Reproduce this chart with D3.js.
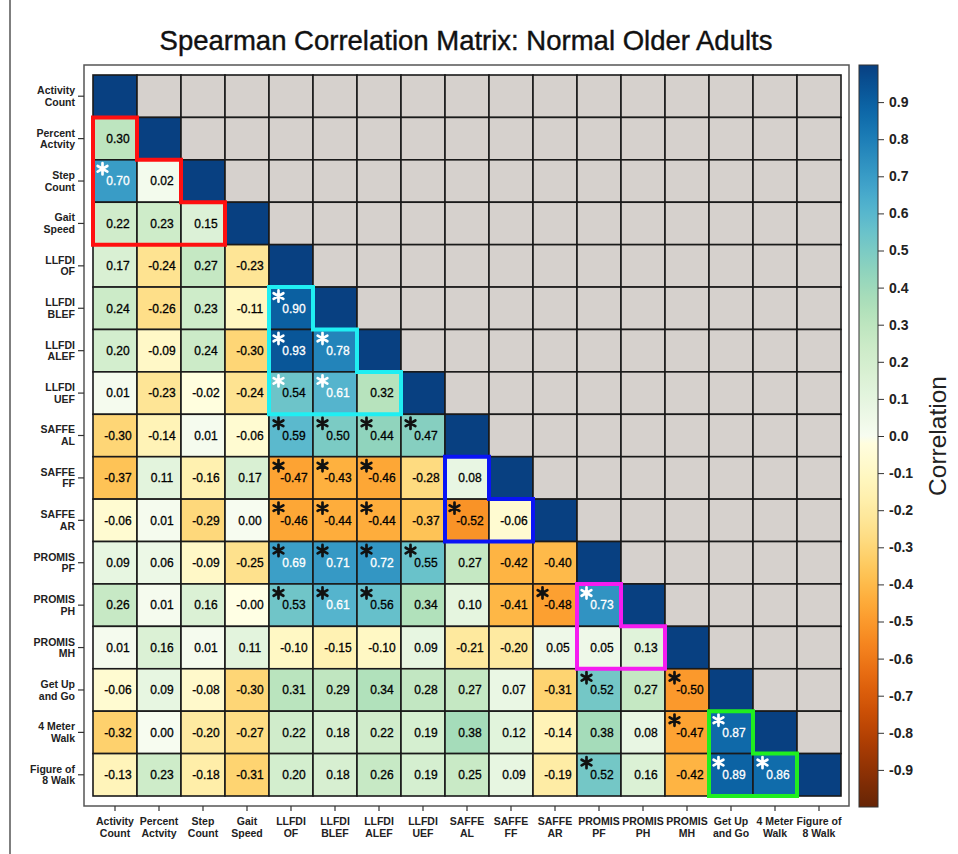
<!DOCTYPE html>
<html><head><meta charset="utf-8">
<script src="https://cdn.jsdelivr.net/npm/d3@7"></script>
<style>body{margin:0;background:#fff;} svg{display:block;}</style>
</head><body>
<svg id="chart" width="958" height="854"></svg>
<script>
const variables = [
  ["Activity","Count"],["Percent","Actvity"],["Step","Count"],["Gait","Speed"],
  ["LLFDI","OF"],["LLFDI","BLEF"],["LLFDI","ALEF"],["LLFDI","UEF"],
  ["SAFFE","AL"],["SAFFE","FF"],["SAFFE","AR"],
  ["PROMIS","PF"],["PROMIS","PH"],["PROMIS","MH"],
  ["Get Up","and Go"],["4 Meter","Walk"],["Figure of","8 Walk"]
];
// lower-triangle correlations, row i has i values (columns 0..i-1)
const correlations = [
  [],
  [0.30],
  [0.70, 0.02],
  [0.22, 0.23, 0.15],
  [0.17, -0.24, 0.27, -0.23],
  [0.24, -0.26, 0.23, -0.11, 0.90],
  [0.20, -0.09, 0.24, -0.30, 0.93, 0.78],
  [0.01, -0.23, -0.02, -0.24, 0.54, 0.61, 0.32],
  [-0.30, -0.14, 0.01, -0.06, 0.59, 0.50, 0.44, 0.47],
  [-0.37, 0.11, -0.16, 0.17, -0.47, -0.43, -0.46, -0.28, 0.08],
  [-0.06, 0.01, -0.29, 0.00, -0.46, -0.44, -0.44, -0.37, -0.52, -0.06],
  [0.09, 0.06, -0.09, -0.25, 0.69, 0.71, 0.72, 0.55, 0.27, -0.42, -0.40],
  [0.26, 0.01, 0.16, -0.004, 0.53, 0.61, 0.56, 0.34, 0.10, -0.41, -0.48, 0.73],
  [0.01, 0.16, 0.01, 0.11, -0.10, -0.15, -0.10, 0.09, -0.21, -0.20, 0.05, 0.05, 0.13],
  [-0.06, 0.09, -0.08, -0.30, 0.31, 0.29, 0.34, 0.28, 0.27, 0.07, -0.31, 0.52, 0.27, -0.50],
  [-0.32, 0.00, -0.20, -0.27, 0.22, 0.18, 0.22, 0.19, 0.38, 0.12, -0.14, 0.38, 0.08, -0.47, 0.87],
  [-0.13, 0.23, -0.18, -0.31, 0.20, 0.18, 0.26, 0.19, 0.25, 0.09, -0.19, 0.52, 0.16, -0.42, 0.89, 0.86]
];
// significant pairs [row, col]
const significant = [
  [2,0],[5,4],[6,4],[6,5],[7,4],[7,5],
  [8,4],[8,5],[8,6],[8,7],
  [9,4],[9,5],[9,6],
  [10,4],[10,5],[10,6],[10,8],
  [11,4],[11,5],[11,6],[11,7],
  [12,4],[12,5],[12,6],[12,10],[12,11],
  [14,11],[14,13],[15,13],[15,14],[16,11],[16,14],[16,15]
];
// highlighted variable groups [first, last, colour]
const groups = [[0,3,"#ff1010"],[4,7,"#20eef2"],[8,10,"#0a14f5"],[11,13,"#f51cf0"],[14,16,"#20ee20"]];
const colorTicks = [0.9,0.8,0.7,0.6,0.5,0.4,0.3,0.2,0.1,0.0,-0.1,-0.2,-0.3,-0.4,-0.5,-0.6,-0.7,-0.8,-0.9];

const svg = d3.select("#chart");
const font = "'Liberation Sans', Arial, sans-serif";
const n = variables.length;
const idx = d3.range(n);
const x = d3.scaleBand().domain(idx).range([93, 841]);
const y = d3.scaleBand().domain(idx).range([75, 796]);
const color = v => v >= 0 ? d3.interpolateGnBu(v) : d3.interpolateYlOrBr(-v);

// page left frame line
svg.append("line").attr("x1",10).attr("x2",10).attr("y1",0).attr("y2",854)
  .attr("stroke","#555").attr("stroke-width",1.5);

// title
svg.append("text").attr("x",466).attr("y",50).attr("text-anchor","middle")
  .attr("font-family",font).attr("font-size",27.5).attr("fill","#111")
  .attr("stroke","#111").attr("stroke-width",0.4)
  .text("Spearman Correlation Matrix: Normal Older Adults");

// plot frame
svg.append("rect").attr("x",84).attr("y",65).attr("width",765).attr("height",741)
  .attr("fill","none").attr("stroke","#555").attr("stroke-width",1.5);

const cells = [];
idx.forEach(r => idx.forEach(c => {
  let v = null, type = "upper";
  if (r === c) { v = 1; type = "diag"; }
  else if (c < r) { v = correlations[r][c]; type = "lower"; }
  cells.push({r, c, v, type});
}));

const g = svg.append("g");
g.selectAll("rect.cell").data(cells).join("rect").attr("class","cell")
  .attr("x", d => x(d.c)).attr("y", d => y(d.r))
  .attr("width", x.bandwidth()).attr("height", y.bandwidth())
  .attr("fill", d => d.type === "upper" ? "#d6d1cd" : color(d.v))
  .attr("stroke","#1a1a1a").attr("stroke-width",1.6);

const lower = cells.filter(d => d.type === "lower");
const inGroup = d => groups.some(([a,b]) => d.r > a && d.r <= b && d.c >= a && d.c < b);
g.selectAll("text.val").data(lower).join("text").attr("class","val")
  .attr("x", d => x(d.c) + x.bandwidth()/2 + 3)
  .attr("y", d => y(d.r) + y.bandwidth()/2)
  .attr("dy","0.36em").attr("text-anchor","middle")
  .attr("font-family",font).attr("font-size",12)
  .attr("fill", d => d.v > 0.6 ? "#fff" : "#000")
  .attr("stroke", d => d.v > 0.6 ? "#fff" : "#000").attr("stroke-width",0.3)
  .text(d => d.v.toFixed(2));

const sig = significant.map(([r,c]) => ({r, c, v: correlations[r][c]}));
const starPath = d3.symbol().type(d3.symbolAsterisk).size(88)();
g.selectAll("path.star").data(sig).join("path").attr("class","star")
  .attr("transform", d => `translate(${x(d.c) + 9.5},${y(d.r) + 9})`)
  .attr("d", starPath)
  .attr("fill","none")
  .attr("stroke", d => (inGroup(d) && d.v > 0) ? "#fff" : "#111")
  .attr("stroke-width",2.7).attr("stroke-linecap","round");

// group outlines (staircase)
groups.forEach(([a,b,col]) => {
  const stairs = [[x(a), y(a+1)]];
  for (let k = a+1; k <= b; k++) {
    stairs.push([x(k - 1) + x.bandwidth(), y(k)]);
    stairs.push([x(k - 1) + x.bandwidth(), y(k) + y.bandwidth()]);
  }
  stairs.push([x(a), y(b) + y.bandwidth()]);
  svg.append("path")
    .attr("d", d3.line()(stairs) + "Z")
    .attr("fill","none").attr("stroke",col).attr("stroke-width",4)
    .attr("stroke-linejoin","miter");
});

// row labels
const rowLab = svg.append("g");
idx.forEach(i => {
  const cy = y(i) + y.bandwidth()/2;
  rowLab.append("line").attr("x1",78).attr("x2",84).attr("y1",cy).attr("y2",cy)
    .attr("stroke","#333").attr("stroke-width",1.2);
  const t = rowLab.append("text").attr("text-anchor","end")
    .attr("font-family",font).attr("font-size",10.5).attr("font-weight","bold").attr("fill","#222");
  t.append("tspan").attr("x",75).attr("y",cy - 5.8).attr("dy","0.36em").text(variables[i][0]);
  t.append("tspan").attr("x",75).attr("y",cy + 5.8).attr("dy","0.36em").text(variables[i][1]);
});
// column labels
idx.forEach(i => {
  const cx = x(i) + x.bandwidth()/2;
  rowLab.append("line").attr("x1",cx).attr("x2",cx).attr("y1",806).attr("y2",811)
    .attr("stroke","#333").attr("stroke-width",1.2);
  const t = rowLab.append("text").attr("text-anchor","middle")
    .attr("font-family",font).attr("font-size",10.5).attr("font-weight","bold").attr("fill","#222");
  t.append("tspan").attr("x",cx).attr("y",821.7).attr("dy","0.36em").text(variables[i][0]);
  t.append("tspan").attr("x",cx).attr("y",833.3).attr("dy","0.36em").text(variables[i][1]);
});

// colour bar
const cb = d3.scaleLinear().domain([-1,1]).range([807,65]);
const defs = svg.append("defs");
const grad = defs.append("linearGradient").attr("id","cbgrad")
  .attr("x1","0").attr("y1","1").attr("x2","0").attr("y2","0");
d3.range(0, 101).forEach(k => {
  const v = -1 + k/50;
  grad.append("stop").attr("offset", (k) + "%").attr("stop-color", color(v));
});
svg.append("rect").attr("x",859).attr("y",cb(1)).attr("width",19).attr("height",cb(-1)-cb(1))
  .attr("fill","url(#cbgrad)").attr("stroke","#333").attr("stroke-width",1);
const axis = d3.axisRight(cb).tickValues(colorTicks).tickSize(6).tickPadding(5);
const ax = svg.append("g").attr("transform","translate(878,0)").call(axis);
ax.select(".domain").remove();
ax.selectAll("line").attr("stroke","#333");
ax.selectAll("text").attr("font-family",font).attr("font-size",14).attr("font-weight","bold").attr("fill","#222")
  .text(d => d.toFixed(1));
svg.append("text").attr("transform","translate(946,436) rotate(-90)")
  .attr("text-anchor","middle").attr("font-family",font).attr("font-size",24.5).attr("fill","#222")
  .text("Correlation");
</script>
</body></html>
